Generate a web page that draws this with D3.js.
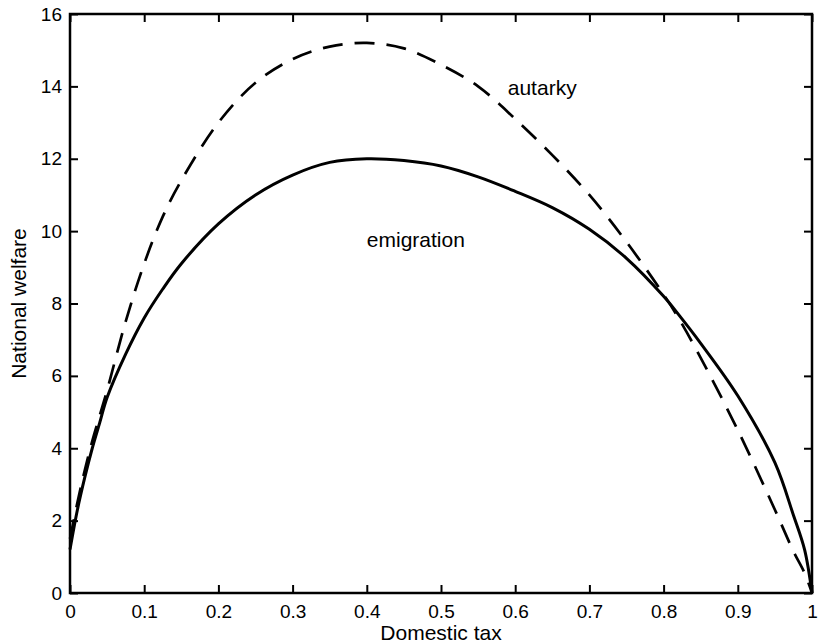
<!DOCTYPE html>
<html>
<head>
<meta charset="utf-8">
<script src="https://cdn.jsdelivr.net/npm/d3@7"></script>
<style>
  body { margin: 0; background: #fff; }
  svg { display: block; font-family: "Liberation Sans", Arial, sans-serif; }
</style>
</head>
<body>
<script>
// domestic tax values where the curves were read
const taxValues = [0, 0.01, 0.02, 0.03, 0.04, 0.05, 0.075, 0.1, 0.125, 0.15, 0.2, 0.25, 0.3, 0.35, 0.4, 0.45, 0.5, 0.55, 0.6, 0.65, 0.7, 0.75, 0.8, 0.82, 0.85, 0.9, 0.95, 0.975, 0.99, 1]
// national welfare, autarky (dashed)
const autarky = [1.5, 2.5, 3.4, 4.2, 4.9, 5.6, 7.5, 9.1, 10.4, 11.4, 13.0, 14.1, 14.75, 15.1, 15.2, 15.05, 14.6, 14.0, 13.1, 12.1, 11.0, 9.7, 8.25, 7.6, 6.5, 4.5, 2.3, 1.15, 0.55, 0]
// national welfare, emigration (solid)
const emigration = [1.2, 2.3, 3.2, 4.0, 4.7, 5.4, 6.6, 7.6, 8.4, 9.1, 10.2, 11.0, 11.55, 11.9, 12.0, 11.95, 11.8, 11.5, 11.1, 10.65, 10.05, 9.25, 8.2, 7.7, 6.9, 5.45, 3.6, 2.15, 1.2, 0]
const xTicks = [0, 0.1, 0.2, 0.3, 0.4, 0.5, 0.6, 0.7, 0.8, 0.9, 1]
const yTicks = [0, 2, 4, 6, 8, 10, 12, 14, 16]

const width = 818, height = 644
const margin = {left: 70, right: 6, top: 14, bottom: 51}

const svg = d3.select('body').append('svg')
  .attr('width', width)
  .attr('height', height)

const x = d3.scaleLinear().domain([0, 1]).range([margin.left, width - margin.right])
const y = d3.scaleLinear().domain([0, 16]).range([height - margin.bottom, margin.top])

// axes, ticks pointing inward like the original
const styleAxis = g => {
  g.select('.domain').remove()
  g.selectAll('.tick line').attr('stroke', '#000').attr('stroke-width', 2)
  g.selectAll('text').attr('fill', '#000').style('font-size', '19px')
}

svg.append('g')
  .attr('transform', `translate(0,${y(0)})`)
  .call(d3.axisBottom(x).tickValues(xTicks).tickSize(-8).tickPadding(12).tickFormat(d3.format('')))
  .call(styleAxis)

svg.append('g')
  .attr('transform', `translate(${x(0)},0)`)
  .call(d3.axisLeft(y).tickValues(yTicks).tickSize(-8).tickPadding(8))
  .call(styleAxis)

svg.append('g')
  .attr('transform', `translate(0,${y(16)})`)
  .call(d3.axisTop(x).tickValues(xTicks).tickSize(-8).tickFormat(''))
  .call(styleAxis)

svg.append('g')
  .attr('transform', `translate(${x(1)},0)`)
  .call(d3.axisRight(y).tickValues(yTicks).tickSize(-8).tickFormat(''))
  .call(styleAxis)

svg.append('rect')
  .attr('x', x(0)).attr('y', y(16))
  .attr('width', x(1) - x(0)).attr('height', y(0) - y(16))
  .attr('fill', 'none').attr('stroke', '#000').attr('stroke-width', 2.5)

const line = d3.line()
  .x((d, i) => x(taxValues[i]))
  .y(d => y(d))
  .curve(d3.curveCatmullRom.alpha(0.5))

svg.append('path')
  .datum(autarky)
  .attr('d', line)
  .attr('fill', 'none')
  .attr('stroke', '#000')
  .attr('stroke-width', 2.7)
  .attr('stroke-dasharray', '20,12')

svg.append('path')
  .datum(emigration)
  .attr('d', line)
  .attr('fill', 'none')
  .attr('stroke', '#000')
  .attr('stroke-width', 3)

// labels
svg.append('text')
  .attr('x', x(0.59)).attr('y', y(13.75))
  .style('font-size', '21px')
  .text('autarky')

svg.append('text')
  .attr('x', x(0.4)).attr('y', y(9.55))
  .style('font-size', '21px')
  .text('emigration')

svg.append('text')
  .attr('x', (x(0) + x(1)) / 2).attr('y', 640)
  .attr('text-anchor', 'middle')
  .style('font-size', '21px')
  .text('Domestic tax')

svg.append('text')
  .attr('transform', `translate(26,${(y(0) + y(16)) / 2}) rotate(-90)`)
  .attr('text-anchor', 'middle')
  .style('font-size', '21px')
  .text('National welfare')
</script>
</body>
</html>
